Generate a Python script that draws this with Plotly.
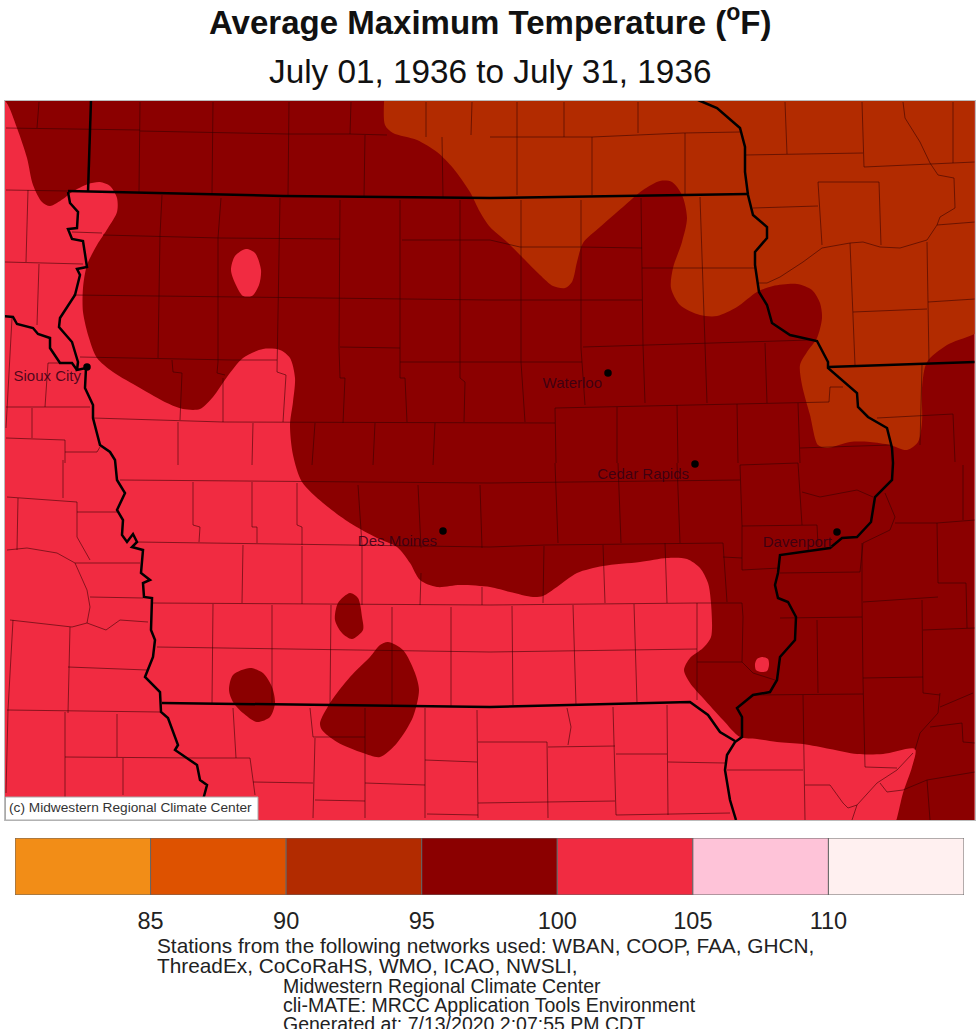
import plotly.graph_objects as go

W, H = 980, 1029
FONT = 'Liberation Sans'

RED = '#f12b41'
DARK = '#8b0000'
BROWN = '#b22b00'

# legend
bin_centers = [82.5, 87.5, 92.5, 97.5, 102.5, 107.5, 112.5]
bin_colors = ['#f28d17', '#de5200', '#b22b00', '#8b0000', '#f12b41', '#fec3d8', '#fff0f0']
legend_ticks = [85, 90, 95, 100, 105, 110]

# contour outlines (page pixels)
dark_main = [(-10, 90), (6, 102), (17, 128), (27, 158), (33, 185), (42, 202), (50, 206), (63, 199), (72, 192),
             (88, 184), (100, 182), (110, 186), (117, 198), (117, 212), (108, 228), (97, 245), (87, 265),
             (83, 288), (83, 312), (89, 338), (97, 358), (113, 372), (140, 388), (167, 403), (183, 409),
             (200, 409), (213, 397), (227, 377), (243, 358), (263, 349), (280, 350), (290, 358), (295, 378),
             (293, 402), (290, 425), (293, 455), (302, 482), (323, 503), (350, 523), (377, 538), (397, 547),
             (410, 563), (420, 580), (437, 587), (460, 585), (490, 587), (510, 592), (533, 597), (543, 596),
             (557, 587), (577, 573), (603, 566), (640, 562), (667, 558), (687, 559), (700, 568), (708, 583),
             (711, 603), (711, 637), (703, 648), (690, 658), (684, 670), (690, 683), (703, 698), (723, 720),
             (740, 737), (757, 739), (777, 742), (803, 744), (830, 749), (857, 754), (883, 754), (915, 749),
             (912, 767), (903, 793), (897, 818), (890, 840), (1000, 840), (1000, 90), (-10, 90)]
brown_main = [(385, 40), (385, 80), (385, 125), (393, 133), (417, 140), (437, 152), (453, 168), (470, 192), (480, 212),
              (490, 227), (507, 242), (523, 258), (540, 275), (553, 286), (565, 288), (572, 282), (577, 262),
              (583, 243), (600, 227), (623, 207), (643, 190), (660, 181), (672, 182), (682, 195), (687, 218),
              (682, 242), (673, 268), (671, 288), (680, 305), (700, 315), (717, 316), (737, 307), (757, 292),
              (773, 286), (797, 284), (812, 290), (820, 303), (822, 318), (817, 338), (807, 352), (800, 365),
              (802, 385), (810, 415), (818, 445), (827, 448), (850, 442), (870, 442), (890, 445), (907, 450),
              (918, 442), (922, 422), (922, 388), (927, 362), (947, 345), (990, 322), (1000, 40), (385, 40)]
dark_spot_a = [(350, 593), (358, 598), (362, 617), (363, 630), (352, 639), (342, 633), (335, 620), (338, 603), (350, 593)]
dark_spot_b = [(388, 642), (403, 650), (415, 673), (419, 690), (413, 717), (397, 743), (380, 757), (363, 753),
               (337, 742), (322, 730), (320, 723), (330, 703), (350, 677), (370, 657), (380, 645), (388, 642)]
dark_spot_c = [(250, 668), (263, 673), (272, 687), (275, 703), (270, 717), (257, 722), (243, 713), (233, 702),
               (229, 690), (233, 675), (250, 668)]
red_spot_a = [(246, 249), (255, 253), (261, 270), (259, 285), (252, 296), (243, 296), (235, 283), (231, 270),
              (235, 256), (246, 249)]
red_spot_b = [(762, 657), (768, 659), (769, 665), (767, 671), (761, 672), (756, 670), (755, 664), (757, 659), (762, 657)]

# state lines
state_lines = [
    [(91, 100), (88, 192)],
    [(68, 191), (283, 196), (490, 198), (748, 194)],
    [(68, 192), (70, 203), (78, 212), (77, 228), (68, 229), (72, 239), (83, 241), (87, 267), (77, 269), (80, 275),
     (75, 295), (60, 318), (59, 327), (72, 342), (78, 362), (77, 370), (86, 368), (85, 388), (93, 405), (93, 418),
     (100, 445), (110, 452), (115, 460), (117, 480), (125, 493), (117, 510), (123, 520), (122, 535), (127, 542),
     (133, 534), (137, 542), (132, 547), (143, 550), (141, 573), (150, 580), (143, 583), (144, 597), (152, 598),
     (151, 630), (155, 640), (153, 657), (145, 677), (160, 692), (161, 712), (168, 718), (178, 745), (175, 750),
     (197, 765), (200, 780), (207, 785), (203, 800), (207, 820)],
    [(3, 316), (13, 317), (17, 324), (33, 328), (38, 334), (50, 338), (50, 348), (60, 363), (72, 363), (77, 370)],
    [(698, 100), (717, 108), (740, 128), (745, 147), (745, 172), (748, 195), (753, 215), (767, 227), (767, 238),
     (755, 252), (755, 265), (759, 292), (767, 305), (772, 323), (790, 335), (817, 341), (828, 362), (828, 368),
     (857, 393), (858, 407), (868, 417), (887, 428), (892, 448), (893, 463), (892, 480), (875, 497), (871, 522),
     (857, 537), (842, 538), (830, 548), (780, 555), (778, 573), (775, 585), (778, 598), (788, 602), (796, 617),
     (795, 640), (780, 657), (777, 680), (770, 692), (753, 695), (737, 708), (742, 717), (742, 737), (735, 742),
     (727, 755), (725, 770), (730, 800), (736, 820)],
    [(828, 367), (923, 364), (975, 362)],
    [(162, 703), (490, 707), (690, 702), (708, 715), (720, 732), (735, 741)],
]

# county lines
county_lines = [
    # north of the Iowa line
    [(6, 128), (140, 130)], [(140, 131), (287, 134), (350, 134), (387, 135)], [(39, 102), (37, 128)],
    [(140, 102), (139, 192)], [(213, 102), (212, 193)], [(289, 102), (288, 195)], [(351, 102), (350, 134)],
    [(365, 135), (364, 197)], [(426, 102), (426, 137)], [(442, 137), (443, 197)], [(472, 102), (471, 135)],
    [(490, 137), (563, 137), (592, 137), (683, 133), (740, 132)], [(517, 102), (517, 195)], [(564, 102), (564, 137)],
    [(592, 137), (592, 195)], [(638, 102), (638, 133)], [(685, 133), (685, 195)],
    # western edge
    [(28, 190), (26, 262)], [(6, 190), (68, 191)], [(5, 262), (83, 264)], [(39, 264), (37, 325)],
    [(72, 232), (102, 233)], [(12, 318), (6, 428)], [(6, 407), (45, 407), (90, 407)], [(48, 363), (45, 407)],
    [(48, 363), (60, 363)], [(32, 408), (32, 438)], [(6, 438), (65, 440)], [(65, 440), (65, 463)],
    [(65, 452), (97, 452), (100, 447)],
    # north Iowa
    [(162, 195), (160, 235), (158, 358)], [(221, 198), (218, 238), (218, 298), (218, 362), (217, 373), (225, 375)],
    [(280, 198), (278, 298), (277, 372), (286, 375), (283, 422)],
    [(340, 200), (339, 298), (339, 348), (340, 378), (345, 378), (343, 423)],
    [(400, 200), (400, 378), (405, 378), (407, 422)], [(460, 200), (460, 378), (465, 382), (464, 422)],
    [(103, 235), (220, 238), (340, 239)], [(402, 240), (490, 240), (520, 247), (580, 247), (642, 248)],
    [(73, 295), (490, 300), (642, 300)], [(340, 347), (400, 348)], [(80, 357), (233, 360), (277, 360)],
    [(400, 362), (582, 362)], [(172, 360), (173, 372), (182, 373), (180, 420)],
    [(93, 418), (223, 422), (555, 423)], [(223, 378), (223, 422)], [(178, 422), (178, 465)],
    [(253, 423), (252, 465)], [(315, 423), (312, 465)], [(375, 423), (373, 465)], [(435, 423), (433, 465)],
    [(521, 200), (521, 362), (525, 422)], [(581, 200), (581, 348), (585, 405)], [(641, 198), (643, 345), (645, 403)],
    [(700, 197), (705, 345), (707, 403)], [(765, 343), (767, 403)], [(642, 268), (755, 268)],
    [(583, 347), (810, 340)], [(555, 408), (829, 402), (830, 387), (843, 387)], [(555, 408), (556, 463)],
    [(617, 407), (617, 463)], [(677, 405), (678, 463)], [(737, 404), (738, 463)], [(798, 403), (800, 463)],
    [(800, 448), (890, 445)],
    # Wisconsin
    [(785, 102), (787, 154)], [(745, 155), (863, 153)], [(862, 102), (864, 167)], [(864, 167), (930, 164), (975, 162)],
    [(953, 102), (953, 163)],
    [(903, 102), (905, 118), (920, 142), (930, 163), (938, 175), (954, 178), (955, 208), (940, 217), (937, 225),
     (927, 240), (900, 248), (880, 247), (863, 242), (850, 243), (822, 248), (803, 262), (780, 277), (767, 283), (759, 283)],
    [(818, 182), (879, 182), (881, 245)], [(818, 182), (822, 245)], [(753, 208), (818, 206)], [(937, 225), (975, 222)],
    [(850, 243), (855, 365)], [(927, 242), (929, 362)], [(853, 312), (927, 309)], [(928, 302), (975, 299)],
    # Illinois
    [(922, 365), (920, 445)], [(877, 418), (953, 414)], [(953, 414), (955, 462)],
    [(740, 465), (742, 525), (742, 570), (780, 568)], [(740, 465), (798, 463)], [(798, 463), (802, 525)],
    [(742, 526), (817, 525), (818, 545)], [(802, 492), (820, 497), (857, 490), (873, 497)],
    [(885, 493), (895, 517), (890, 530), (863, 543), (860, 572), (780, 573)], [(963, 465), (963, 520)],
    [(895, 523), (937, 523), (975, 520)], [(937, 523), (938, 583), (966, 583), (967, 628)], [(863, 602), (938, 597)],
    [(862, 543), (862, 600), (863, 680), (865, 767)], [(922, 600), (923, 693), (940, 695)], [(863, 678), (923, 677)],
    [(923, 630), (975, 628)], [(780, 618), (862, 617)], [(817, 620), (818, 693)], [(753, 695), (863, 694)],
    [(803, 695), (805, 820)], [(803, 770), (727, 770)],
    [(805, 785), (830, 785), (843, 803), (848, 808), (857, 805), (877, 783), (897, 770), (913, 753)],
    [(865, 767), (897, 768)], [(880, 783), (887, 792), (903, 790), (927, 780), (975, 772)], [(857, 805), (852, 820)],
    [(927, 780), (930, 820)], [(940, 707), (973, 693)], [(940, 693), (938, 713), (920, 733), (915, 750)],
    [(930, 727), (962, 723), (963, 742), (975, 743)], [(743, 617), (742, 662)], [(697, 603), (742, 603), (743, 617)],
    [(697, 662), (742, 662), (753, 673), (775, 680)], [(723, 543), (727, 602)], [(723, 557), (742, 558)],
    # south Iowa
    [(120, 480), (490, 483), (740, 480)], [(137, 542), (490, 547), (545, 545), (723, 543)],
    [(555, 463), (558, 543)], [(618, 463), (621, 543)], [(677, 463), (680, 543)], [(544, 546), (543, 603)],
    [(603, 545), (605, 603)], [(665, 543), (667, 603)], [(152, 603), (490, 605), (697, 603)],
    [(157, 647), (490, 652), (697, 649)], [(512, 606), (513, 705)], [(573, 605), (576, 705)], [(634, 604), (637, 703)],
    [(697, 603), (697, 700)], [(193, 482), (193, 525), (200, 527), (199, 542)], [(252, 482), (252, 527), (257, 527), (257, 543)],
    [(297, 483), (297, 525), (302, 527), (302, 545)], [(358, 485), (362, 545)], [(418, 485), (421, 548)],
    [(480, 485), (482, 548)], [(243, 545), (242, 603)], [(302, 546), (302, 604)], [(362, 546), (362, 605)],
    [(421, 573), (420, 605)], [(482, 587), (482, 605)], [(213, 604), (212, 703)], [(272, 605), (272, 705)],
    [(331, 605), (330, 705)], [(392, 607), (392, 707)], [(451, 607), (451, 707)],
    # Nebraska
    [(7, 497), (77, 502), (77, 512), (117, 512)], [(18, 498), (17, 550)], [(63, 460), (63, 498)],
    [(77, 512), (77, 537), (90, 560)],
    [(7, 550), (27, 548), (57, 553), (75, 563), (87, 590), (90, 607), (87, 623), (72, 627), (10, 620)],
    [(75, 563), (140, 563)], [(90, 597), (143, 598)], [(87, 623), (106, 630), (120, 620), (148, 622)],
    [(70, 627), (68, 713)], [(68, 667), (147, 670)], [(7, 710), (160, 712)], [(13, 620), (8, 710), (6, 793)],
    [(65, 712), (65, 797)], [(117, 714), (117, 757)], [(65, 757), (197, 758)], [(123, 758), (123, 795)],
    # Missouri
    [(197, 758), (250, 758), (253, 780), (255, 795)], [(233, 708), (236, 758)], [(310, 708), (313, 737), (365, 737)],
    [(365, 708), (365, 818)], [(315, 738), (313, 818)], [(425, 708), (425, 818)], [(477, 710), (478, 818)],
    [(425, 760), (477, 762)], [(478, 742), (547, 742), (548, 818)], [(253, 782), (313, 783)], [(315, 800), (365, 801)],
    [(365, 783), (425, 785)], [(427, 814), (478, 815)], [(478, 803), (615, 801)], [(567, 708), (571, 727), (568, 745)],
    [(613, 707), (616, 815)], [(667, 705), (668, 815)], [(548, 747), (615, 746)], [(616, 754), (667, 754)],
    [(668, 762), (725, 763)], [(616, 815), (730, 813)],
]

city_names = ['Sioux City', 'Waterloo', 'Cedar Rapids', 'Des Moines', 'Davenport']
city_x = [87, 608, 695, 443, 837]
city_y = [367, 373, 464, 531, 532]
city_label_right = [81, 602, 689, 437, 832]
city_label_y = [377, 384, 475, 542, 543]

footer_left = ['Stations from the following networks used: WBAN, COOP, FAA, GHCN,',
               'ThreadEx, CoCoRaHS, WMO, ICAO, NWSLI,']
footer_inner = ['Midwestern Regional Climate Center',
                'cli-MATE: MRCC Application Tools Environment',
                'Generated at: 7/13/2020 2:07:55 PM CDT']


def fx(x):
    return x / W


def fy(y):
    return 1 - y / H


def join(lines):
    xs, ys = [], []
    for line in lines:
        xs += [p[0] for p in line] + [None]
        ys += [p[1] for p in line] + [None]
    return xs, ys


def contour(points, color):
    return go.Scatter(x=[p[0] for p in points], y=[p[1] for p in points], mode='lines',
                      line=dict(color=color, width=0, shape='spline', smoothing=0.8),
                      fill='toself', fillcolor=color, hoverinfo='skip', showlegend=False)


fig = go.Figure()
for pts, col in [(dark_main, DARK), (brown_main, BROWN), (dark_spot_a, DARK), (dark_spot_b, DARK),
                 (dark_spot_c, DARK), (red_spot_a, RED), (red_spot_b, RED)]:
    fig.add_trace(contour(pts, col))

xs, ys = join(county_lines)
fig.add_trace(go.Scatter(x=xs, y=ys, mode='lines', line=dict(color='rgba(50,0,0,0.55)', width=1),
                         hoverinfo='skip', showlegend=False))
xs, ys = join(state_lines)
fig.add_trace(go.Scatter(x=xs, y=ys, mode='lines', line=dict(color='black', width=2.5),
                         hoverinfo='skip', showlegend=False))
fig.add_trace(go.Scatter(x=city_x, y=city_y, mode='markers', marker=dict(color='black', size=7.5),
                         hoverinfo='skip', showlegend=False))
fig.add_trace(go.Scatter(x=city_label_right, y=city_label_y, mode='text', text=city_names,
                         textposition='middle left', textfont=dict(family=FONT, size=15, color='rgba(50,0,20,0.85)'),
                         hoverinfo='skip', showlegend=False))

# legend bar
fig.add_trace(go.Bar(x=bin_centers, y=[1] * len(bin_centers), width=5, xaxis='x2', yaxis='y2',
                     marker=dict(color=bin_colors, line=dict(color='#666666', width=1)),
                     hoverinfo='skip', showlegend=False))

fig.update_layout(
    width=W, height=H, margin=dict(l=0, r=0, t=0, b=0), paper_bgcolor='white', plot_bgcolor=RED,
    font=dict(family=FONT, color='#111111'),
    xaxis=dict(domain=[fx(5), fx(974.5)], range=[5, 974.5], visible=True, showgrid=False, zeroline=False,
               showticklabels=False, ticks='', showline=True, mirror=True, linecolor='#bbbbbb', linewidth=1),
    yaxis=dict(domain=[fy(820), fy(101)], range=[820, 101], showgrid=False, zeroline=False,
               showticklabels=False, ticks='', showline=True, mirror=True, linecolor='#bbbbbb', linewidth=1),
    xaxis2=dict(domain=[fx(15), fx(964)], range=[80, 115], anchor='y2', showgrid=False, zeroline=False,
                tickvals=legend_ticks, ticks='', showline=False, ticklabelstandoff=9,
                tickfont=dict(family=FONT, size=23.5, color='#222222')),
    yaxis2=dict(domain=[fy(895), fy(838)], range=[0, 1], anchor='x2', visible=False),
    shapes=[dict(type='rect', xref='paper', yref='paper', x0=fx(5.5), x1=fx(258), y0=fy(820), y1=fy(797),
                 fillcolor='white', line=dict(color='#aaaaaa', width=1))],
)


def note(x, y, text, size, anchor='left', color='#222222'):
    fig.add_annotation(xref='paper', yref='paper', x=fx(x), y=fy(y), text=text, showarrow=False,
                       xanchor=anchor, yanchor='middle', font=dict(family=FONT, size=size, color=color))


note(490, 20, '<b>Average Maximum Temperature (<sup>o</sup>F)</b>', 33, 'center', '#111111')
note(490, 71, 'July 01, 1936 to July 31, 1936', 33.3, 'center', '#111111')
note(7, 807, '(c) Midwestern Regional Climate Center', 13.7, 'left', '#333333')
note(155, 945, footer_left[0], 20.8)
note(155, 965, footer_left[1], 20.8)
note(281, 986, footer_inner[0], 19.5)
note(281, 1005, footer_inner[1], 19.5)
note(281, 1024, footer_inner[2], 19.5)

fig.write_html("out.html", config={'displayModeBar': False}, post_script="document.body.style.margin='0';")
